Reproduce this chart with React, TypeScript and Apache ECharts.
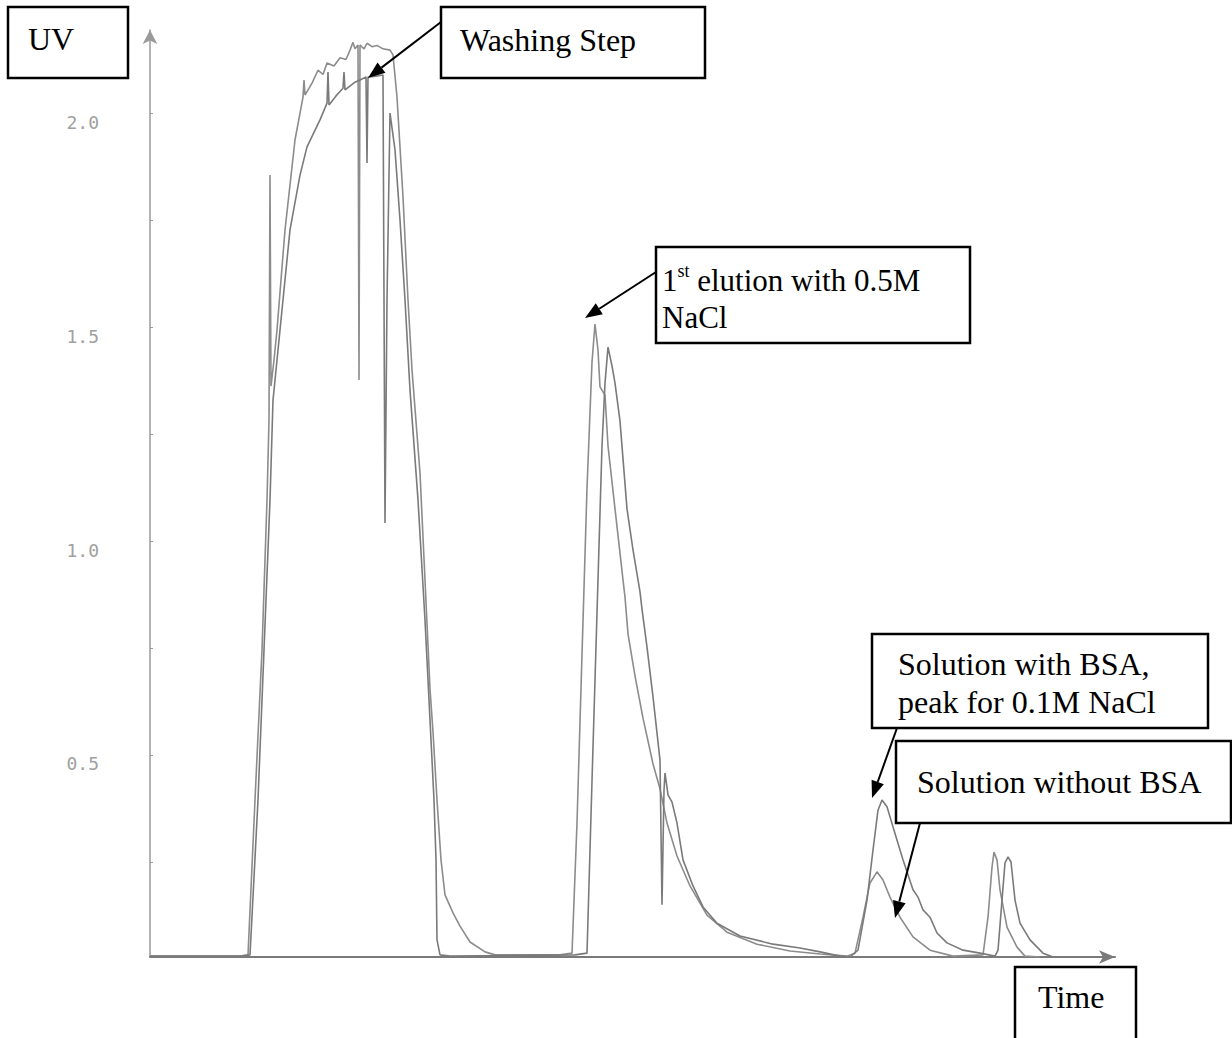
import React, { useEffect, useRef } from "react";
import * as echarts from "echarts";

// ---- data (time in arbitrary units, UV absorbance) ----
const yLabelValues = [0.5, 1.0, 1.5, 2.0];
const yTickValues = [0.25, 0.5, 0.75, 1.0, 1.25, 1.5, 1.75, 2.0];

// run A: earlier trace, "Solution without BSA"
const runA: [number, number][] = [
  [0, 0.03], [9.0, 0.03], [9.8, 0.033], [10.5, 0.395], [11.2, 0.745], [11.7, 1.096], [11.9, 1.283],
  [12.0, 1.855], [12.1, 1.362], [12.4, 1.423], [12.7, 1.493], [13.5, 1.727], [14.5, 1.937],
  [15.3, 2.037], [15.4, 2.077], [15.5, 2.042], [16.2, 2.07], [16.8, 2.1], [17.3, 2.09], [17.7, 2.117],
  [18.4, 2.11], [19.0, 2.129], [19.6, 2.125], [20.0, 2.147], [20.3, 2.165], [20.5, 2.15], [20.8, 2.159],
  [20.9, 1.376], [21.0, 2.159], [21.4, 2.15], [21.7, 2.163], [22.2, 2.155], [22.7, 2.158], [23.3, 2.15],
  [24.0, 2.147], [24.3, 2.136], [24.7, 2.037], [25.3, 1.804], [25.8, 1.563], [26.2, 1.4], [27.0, 1.159],
  [27.5, 0.909], [28.0, 0.654], [28.3, 0.554], [28.7, 0.395], [29.1, 0.255], [29.5, 0.173], [30.3, 0.131],
  [31.0, 0.1], [32.0, 0.063], [33.5, 0.04], [34.5, 0.033], [41.0, 0.033], [42.2, 0.037], [42.7, 0.341],
  [43.2, 0.734], [43.7, 1.124], [44.2, 1.418], [44.5, 1.507], [44.8, 1.446], [45.0, 1.36], [45.5, 1.341],
  [45.8, 1.222], [46.5, 1.075], [47.3, 0.909], [47.5, 0.869], [47.8, 0.783], [48.5, 0.685], [49.3, 0.586],
  [50.3, 0.479], [51.0, 0.421], [51.7, 0.341], [52.7, 0.264], [54.0, 0.194], [55.7, 0.126], [57.7, 0.086],
  [60.7, 0.058], [64.0, 0.042], [67.0, 0.035], [69.7, 0.03], [70.5, 0.037], [71.3, 0.121], [72.0, 0.201],
  [72.7, 0.227], [73.3, 0.208], [74.0, 0.168], [75.0, 0.121], [76.3, 0.075], [78.0, 0.044], [80.3, 0.03],
  [83.3, 0.033], [83.8, 0.121], [84.2, 0.238], [84.4, 0.273], [84.7, 0.255], [85.0, 0.185], [85.7, 0.098],
  [86.7, 0.051], [87.5, 0.03], [89.0, 0.028],
];

// run B: later trace, "Solution with BSA"
const runB: [number, number][] = [
  [0, 0.03], [9.2, 0.03], [10.0, 0.033], [10.8, 0.395], [11.4, 0.745], [12.0, 1.096], [12.3, 1.329],
  [13.0, 1.493], [14.0, 1.727], [15.0, 1.855], [15.7, 1.921], [17.0, 1.984], [17.7, 2.023], [17.8, 2.096],
  [17.9, 2.019], [18.6, 2.04], [19.3, 2.058], [19.4, 2.096], [19.5, 2.054], [20.5, 2.072], [21.0, 2.077],
  [21.6, 2.084], [21.7, 1.883], [21.8, 2.084], [22.6, 2.086], [23.3, 2.089], [23.5, 1.042], [23.7, 1.563],
  [24.0, 2.0], [24.5, 1.914], [25.0, 1.75], [25.5, 1.563], [26.0, 1.353], [26.8, 1.096], [27.5, 0.815],
  [28.0, 0.582], [28.4, 0.395], [28.6, 0.255], [28.7, 0.068], [29.0, 0.033], [30.0, 0.03], [42.5, 0.033],
  [43.7, 0.037], [44.2, 0.439], [44.7, 0.832], [45.2, 1.222], [45.5, 1.369], [45.8, 1.453], [46.2, 1.409],
  [46.5, 1.369], [47.0, 1.28], [47.7, 1.075], [48.3, 0.979], [49.0, 0.881], [49.2, 0.841], [49.7, 0.752],
  [50.3, 0.636], [51.0, 0.488], [51.2, 0.15], [51.4, 0.418], [51.5, 0.458], [51.8, 0.407], [52.2, 0.39],
  [52.7, 0.341], [53.3, 0.255], [54.3, 0.194], [55.3, 0.145], [56.7, 0.107], [59.0, 0.077], [62.3, 0.058],
  [65.0, 0.049], [67.0, 0.04], [69.0, 0.03], [70.0, 0.028], [70.8, 0.044], [71.7, 0.161], [72.3, 0.278],
  [72.8, 0.371], [73.2, 0.395], [73.7, 0.379], [74.3, 0.332], [75.3, 0.255], [76.3, 0.185], [76.8, 0.168],
  [77.3, 0.138], [78.0, 0.121], [78.7, 0.084], [79.7, 0.061], [81.3, 0.044], [83.0, 0.037], [84.5, 0.03],
  [84.8, 0.044], [85.2, 0.161], [85.5, 0.248], [85.8, 0.262], [86.1, 0.25], [86.5, 0.161], [87.0, 0.107],
  [88.0, 0.068], [89.3, 0.037], [90.3, 0.028],
];

const SERIF = '"Liberation Serif", "Times New Roman", serif';

function arrow(x1: number, y1: number, x2: number, y2: number) {
  const head = 17, half = 6.5;
  const dx = x2 - x1, dy = y2 - y1;
  const L = Math.hypot(dx, dy);
  const ux = dx / L, uy = dy / L;
  const bx = x2 - ux * head, by = y2 - uy * head;
  const nx = -uy, ny = ux;
  return [
    { type: "line", shape: { x1, y1, x2: bx, y2: by }, style: { stroke: "#000", lineWidth: 2 }, z: 100 },
    {
      type: "polygon",
      shape: { points: [[x2, y2], [bx + nx * half, by + ny * half], [bx - nx * half, by - ny * half]] },
      style: { fill: "#000" },
      z: 100,
    },
  ];
}

function box(x: number, y: number, w: number, h: number) {
  return {
    type: "rect",
    shape: { x, y, width: w, height: h },
    style: { fill: "#fff", stroke: "#000", lineWidth: 2.5 },
    z: 100,
  };
}

function label(text: string, x: number, y: number, size = 32) {
  return {
    type: "text",
    x,
    y,
    style: {
      text,
      fontFamily: SERIF,
      fontSize: size,
      lineHeight: Math.round(size * 0.9),
      fill: "#000",
      align: "left",
      verticalAlign: "middle",
    },
    z: 101,
  };
}

export default function App() {
  const ref = useRef<HTMLDivElement>(null);
  useEffect(() => {
    if (!ref.current) return;
    const chart = echarts.init(ref.current, undefined, { renderer: "svg" });
    const graphics: any[] = [
      box(8, 7, 120, 71),
      label("UV", 28, 39),
      box(441, 7, 264, 71),
      label("Washing Step", 460, 40),
      ...arrow(441, 22, 368, 78),
      box(656, 247, 314, 96),
      {
        type: "text",
        x: 662,
        y: 262,
        style: {
          text: "{n|1}{s|st}{n| elution with 0.5M}\n{n|NaCl}",
          align: "left",
          verticalAlign: "top",
          fill: "#000",
          rich: {
            n: { fontFamily: SERIF, fontSize: 31, lineHeight: 37, fill: "#000" },
            s: { fontFamily: SERIF, fontSize: 18, lineHeight: 22, verticalAlign: "top", fill: "#000" },
          },
        },
        z: 101,
      },
      ...arrow(656, 272, 585, 318),
      box(872, 634, 336, 94),
      label("Solution with BSA,", 898, 664),
      label("peak for 0.1M NaCl", 898, 702),
      ...arrow(897, 728, 872, 798),
      box(896, 741, 335, 82),
      label("Solution without BSA", 917, 782),
      ...arrow(920, 823, 895, 918),
      {
        type: "polyline",
        shape: { points: [[1015, 1045], [1015, 967], [1136, 967], [1136, 1045]] },
        style: { stroke: "#000", lineWidth: 2.5, fill: "none" },
        z: 100,
      },
      label("Time", 1038, 997),
    ];
    chart.setOption({
      animation: false,
      backgroundColor: "#fff",
      grid: { left: 150, right: 117, top: 30, bottom: 81, containLabel: false },
      xAxis: {
        type: "value",
        min: 0,
        max: 96.5,
        axisLine: {
          show: true,
          lineStyle: { color: "#7a7a7a", width: 2 },
          symbol: ["none", "arrow"],
          symbolSize: [10, 16],
        },
        axisTick: { show: false },
        axisLabel: { show: false },
        splitLine: { show: false },
      },
      yAxis: {
        type: "value",
        min: 0.028,
        max: 2.194,
        axisLine: {
          show: true,
          onZero: false,
          lineStyle: { color: "#9a9a9a", width: 1.5 },
          symbol: ["none", "arrow"],
          symbolSize: [11, 14],
        },
        axisTick: {
          show: true,
          customValues: yTickValues,
          length: 3,
          inside: true,
          lineStyle: { color: "#9a9a9a" },
        },
        axisLabel: {
          show: true,
          customValues: yLabelValues,
          formatter: (v: number) => v.toFixed(1),
          fontFamily: '"DejaVu Sans Mono", monospace',
          fontSize: 18,
          color: "#a0a0a0",
          margin: 51,
          verticalAlign: "top",
        },
        splitLine: { show: false },
      },
      series: [
        {
          name: "Solution without BSA",
          type: "line",
          data: runA,
          showSymbol: false,
          lineStyle: { color: "#8c8c8c", width: 1.6 },
          z: 2,
        },
        {
          name: "Solution with BSA",
          type: "line",
          data: runB,
          showSymbol: false,
          lineStyle: { color: "#7a7a7a", width: 1.6 },
          z: 3,
        },
      ],
      graphic: graphics,
    });
    return () => chart.dispose();
  }, []);
  return (
    <div
      ref={ref}
      style={{ position: "fixed", left: 0, top: 0, width: 1232, height: 1038, background: "#fff" }}
    />
  );
}
